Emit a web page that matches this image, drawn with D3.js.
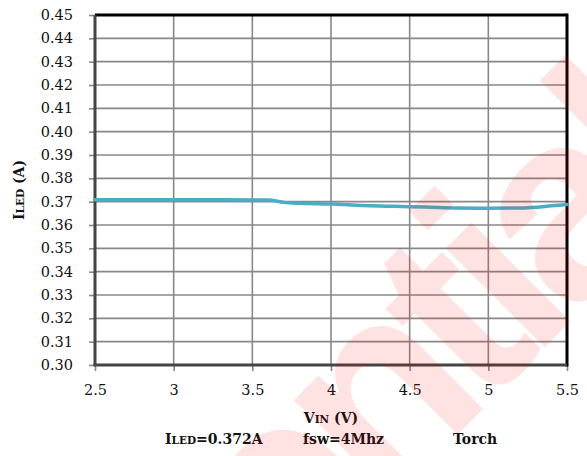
<!DOCTYPE html>
<html><head><meta charset="utf-8">
<script src="https://cdn.jsdelivr.net/npm/d3@7/dist/d3.min.js"></script>
<style>body{margin:0;background:#fff}svg{display:block}</style>
</head><body>
<script>
const vin = [2.5, 2.7, 3.0, 3.3, 3.6, 3.7, 3.8, 4.0, 4.2, 4.4, 4.6, 4.8, 5.0, 5.2, 5.4, 5.5];
const iled = [0.3708, 0.3708, 0.3708, 0.3708, 0.3707, 0.3697, 0.3693, 0.3690, 0.3684, 0.3680, 0.3677, 0.3673, 0.3672, 0.3673, 0.3682, 0.3688];
const xTicks = [2.5, 3, 3.5, 4, 4.5, 5, 5.5];
const yTicks = d3.range(0, 16).map(i => +(0.30 + i * 0.01).toFixed(2));

const W = 587, H = 456;
const m = {l: 95, r: 20, t: 15, b: 91};
const svg = d3.select("body").append("svg").attr("width", W).attr("height", H);
const x = d3.scaleLinear().domain([2.5, 5.5]).range([m.l, W - m.r]);
const y = d3.scaleLinear().domain([0.30, 0.45]).range([H - m.b, m.t]);
const serif = "'DejaVu Serif', 'Liberation Serif', serif";

// grid
svg.append("g").selectAll("line").data(yTicks).join("line")
  .attr("x1", m.l).attr("x2", W - m.r).attr("y1", d => y(d)).attr("y2", d => y(d))
  .attr("stroke", "#888").attr("stroke-width", 1.6);
svg.append("g").selectAll("line").data(xTicks).join("line")
  .attr("y1", m.t).attr("y2", H - m.b).attr("x1", d => x(d)).attr("x2", d => x(d))
  .attr("stroke", "#888").attr("stroke-width", 1.6);

// axes
const yAxis = svg.append("g").attr("transform", `translate(${m.l},0)`)
  .call(d3.axisLeft(y).tickValues(yTicks).tickFormat(d3.format(".2f")).tickSize(6).tickPadding(16));
const xAxis = svg.append("g").attr("transform", `translate(0,${H - m.b})`)
  .call(d3.axisBottom(x).tickValues(xTicks).tickFormat(d => String(d)).tickSize(6).tickPadding(14));
[yAxis, xAxis].forEach(a => {
  a.select(".domain").remove();
  a.selectAll(".tick line").attr("stroke", "#888").attr("stroke-width", 1.6);
  a.selectAll("text").attr("font-family", serif).attr("font-size", 14.5).attr("fill", "#111");
});

// frame
svg.append("line").attr("x1", m.l).attr("x2", W - m.r).attr("y1", m.t).attr("y2", m.t).attr("stroke", "#000").attr("stroke-width", 3);
svg.append("line").attr("x1", W - m.r).attr("x2", W - m.r).attr("y1", m.t - 1.5).attr("y2", H - m.b + 1.5).attr("stroke", "#000").attr("stroke-width", 3);
svg.append("line").attr("x1", m.l).attr("x2", m.l).attr("y1", m.t).attr("y2", H - m.b).attr("stroke", "#444").attr("stroke-width", 3);
svg.append("line").attr("x1", m.l - 1.5).attr("x2", W - m.r).attr("y1", H - m.b).attr("y2", H - m.b).attr("stroke", "#444").attr("stroke-width", 3);

// series
const line = d3.line().x((d, i) => x(vin[i])).y(d => y(d)).curve(d3.curveMonotoneX);
svg.append("path").datum(iled).attr("d", line).attr("fill", "none")
  .attr("stroke", "#4bacc6").attr("stroke-width", 3.5).attr("stroke-linecap", "round");

// titles
const yt = svg.append("text").attr("transform", `translate(24,${(m.t + H - m.b) / 2}) rotate(-90)`)
  .attr("text-anchor", "middle").attr("font-family", serif).attr("font-weight", "bold").attr("font-size", 14).attr("fill", "#111");
yt.append("tspan").text("I");
yt.append("tspan").attr("font-size", 10.5).text("LED");
yt.append("tspan").text("  (A)");

const xt = svg.append("text").attr("x", 331).attr("y", 423).attr("text-anchor", "middle")
  .attr("font-family", serif).attr("font-weight", "bold").attr("font-size", 14).attr("fill", "#111");
xt.append("tspan").text("V");
xt.append("tspan").attr("font-size", 10.5).text("IN");
xt.append("tspan").text("  (V)");

const note = svg.append("g").attr("font-family", serif).attr("font-weight", "bold").attr("font-size", 14).attr("fill", "#111");
const n1 = note.append("text").attr("x", 165).attr("y", 444);
n1.append("tspan").text("I");
n1.append("tspan").attr("font-size", 10.5).text("LED");
n1.append("tspan").text("=0.372A");
note.append("text").attr("x", 303).attr("y", 444).text("fsw=4Mhz");
note.append("text").attr("x", 453).attr("y", 444).text("Torch");

// watermark
const ang = -45, rad = ang * Math.PI / 180;
const wm = svg.append("text")
  .attr("font-family", "'Liberation Sans', Arial, sans-serif").attr("font-weight", "bold")
  .attr("font-size", 265).attr("letter-spacing", -18).attr("fill", "#ff0000").attr("fill-opacity", 0.11)
  .text("Confidential");
const L = wm.node().getSubStringLength(0, 8);
const tx = 482, ty = 410;
wm.attr("transform", `translate(${tx - L * Math.cos(rad)},${ty - L * Math.sin(rad)}) rotate(${ang})`);
</script>
</body></html>
